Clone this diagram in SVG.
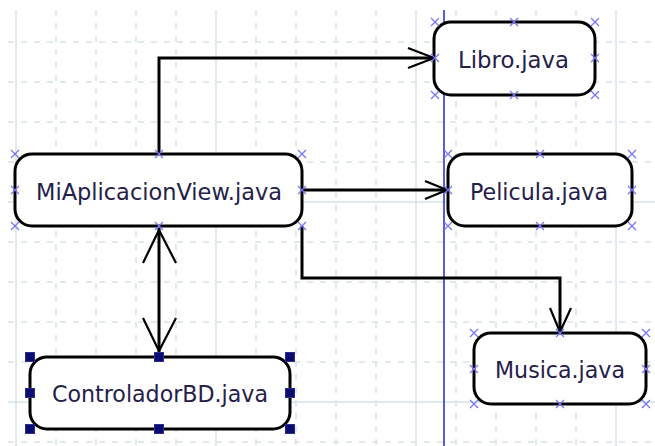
<svg xmlns="http://www.w3.org/2000/svg" width="655" height="446" viewBox="0 0 655 446">
  <style>
    .grid-dash { stroke: #d6e3e6; stroke-width: 1.5; stroke-dasharray: 6 7; fill: none; }
    .grid-solid { stroke: #d6e3e6; stroke-width: 1.5; fill: none; }
    .box { fill: #ffffff; stroke: #000000; stroke-width: 3; }
    .label { font-family: "DejaVu Sans", Tahoma, "Liberation Sans", sans-serif; font-size: 23px; fill: #25204a; text-anchor: middle; }
    .line { stroke: #000000; stroke-width: 3; fill: none; }
    .head { stroke: #000000; stroke-width: 2.2; fill: none; stroke-linejoin: miter; }
    .cross { stroke: #7474f4; stroke-width: 1.2; fill: none; }
    .handle { fill: #0c0c70; stroke: #2a2a90; stroke-width: 1; }
  </style>
  <defs>
    <path id="x" class="cross" d="M-4,-4 L4,4 M-4,4 L4,-4"/>
    <rect id="h" class="handle" x="-4.5" y="-4.5" width="9" height="9"/>
  </defs>

  <rect width="655" height="446" fill="#ffffff"/>

  <!-- background grid -->
  <g id="grid">
    <path class="grid-dash" d="M56,10V446 M96,10V446 M136,10V446 M176,10V446 M256,10V446 M296,10V446 M336,10V446 M376,10V446 M456,10V446 M496,10V446 M536,10V446 M576,10V446 M656,10V446"/>
    <path class="grid-dash" d="M8,42H655 M8,82H655 M8,122H655 M8,162H655 M8,242H655 M8,282H655 M8,322H655 M8,362H655 M8,442H655"/>
    <path class="grid-solid" d="M16,10V446 M216,10V446 M416,10V446 M616,10V446 M8,202H655 M8,402H655"/>
    <line x1="444" y1="10" x2="444" y2="446" stroke="#2626c8" stroke-width="1.5"/>
  </g>

  <!-- connectors -->
  <g id="connectors">
    <path class="line" d="M159,154 V58 H433"/>
    <path class="head" d="M408,48 L434,58 L408,68"/>
    <path class="line" d="M302,190 H447"/>
    <path class="head" d="M425,181 L447,190 L425,199"/>
    <path class="line" d="M302,226 V278 H560 V331"/>
    <path class="head" d="M550,308 L560,332 L571,308"/>
    <path class="line" d="M159,228 V356"/>
    <path class="head" d="M143,263 L159,230 L176,263"/>
    <path class="head" d="M143,318 L159,351 L176,318"/>
  </g>

  <g id="libro">
    <rect class="box" x="434" y="22" width="161" height="73" rx="17"/>
    <text class="label" x="513.5" y="68" textLength="111" lengthAdjust="spacingAndGlyphs">Libro.java</text>
    <use href="#x" x="435" y="22"/><use href="#x" x="514" y="22"/><use href="#x" x="595" y="22"/>
    <use href="#x" x="435" y="58"/><use href="#x" x="595" y="58"/>
    <use href="#x" x="435" y="95"/><use href="#x" x="514" y="95"/><use href="#x" x="595" y="95"/>
  </g>

  <g id="miaplicacionview">
    <rect class="box" x="15" y="154" width="287" height="72" rx="17"/>
    <text class="label" x="159" y="200" textLength="246" lengthAdjust="spacingAndGlyphs">MiAplicacionView.java</text>
    <use href="#x" x="15" y="154"/><use href="#x" x="159" y="154"/><use href="#x" x="302" y="154"/>
    <use href="#x" x="15" y="190"/><use href="#x" x="302" y="190"/>
    <use href="#x" x="15" y="226"/><use href="#x" x="159" y="226"/><use href="#x" x="302" y="226"/>
  </g>

  <g id="pelicula">
    <rect class="box" x="448" y="154" width="184" height="72" rx="17"/>
    <text class="label" x="539" y="200" textLength="138" lengthAdjust="spacingAndGlyphs">Pelicula.java</text>
    <use href="#x" x="448" y="154"/><use href="#x" x="540" y="154"/><use href="#x" x="632" y="154"/>
    <use href="#x" x="448" y="190"/><use href="#x" x="632" y="190"/>
    <use href="#x" x="448" y="226"/><use href="#x" x="540" y="226"/><use href="#x" x="632" y="226"/>
  </g>

  <g id="musica">
    <rect class="box" x="474" y="333" width="172" height="71" rx="17"/>
    <text class="label" x="560" y="378" textLength="130" lengthAdjust="spacingAndGlyphs">Musica.java</text>
    <use href="#x" x="474" y="333"/><use href="#x" x="560" y="333"/><use href="#x" x="646" y="333"/>
    <use href="#x" x="474" y="369"/><use href="#x" x="646" y="369"/>
    <use href="#x" x="474" y="404"/><use href="#x" x="560" y="404"/><use href="#x" x="646" y="404"/>
  </g>

  <g id="controladorbd">
    <rect class="box" x="30" y="357" width="260" height="72" rx="17"/>
    <text class="label" x="160" y="402" textLength="216" lengthAdjust="spacingAndGlyphs">ControladorBD.java</text>
    <use href="#h" x="30" y="357"/><use href="#h" x="159" y="357"/><use href="#h" x="290" y="357"/>
    <use href="#h" x="30" y="393"/><use href="#h" x="290" y="393"/>
    <use href="#h" x="30" y="429"/><use href="#h" x="159" y="429"/><use href="#h" x="290" y="429"/>
  </g>
</svg>
